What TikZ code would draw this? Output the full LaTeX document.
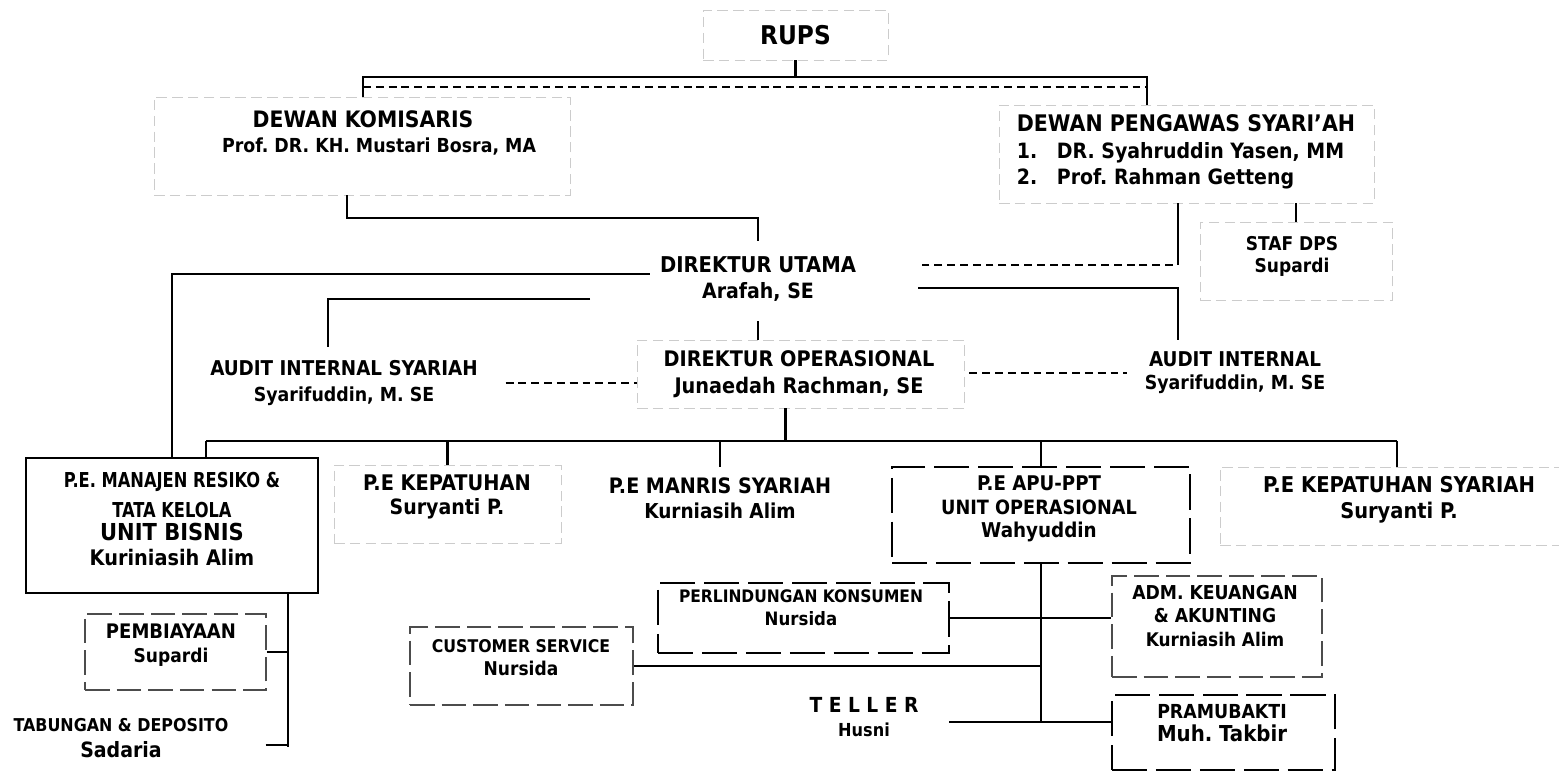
\documentclass[tikz,border=0pt]{standalone}
\usepackage{fontspec}
\setmainfont{DejaVu Sans Condensed}
\newfontfamily\narrowfont{DejaVu Sans Condensed}[FakeStretch=0.88]
\usetikzlibrary{positioning,fit}
\newcommand{\fsz}[2]{\fontsize{#1}{#2}\selectfont}
\frenchspacing
\tikzset{
  link/.style={line width=1.6pt, black},
  dlink/.style={link, dash pattern=on 4.5pt off 2.8pt},
  faintbox/.style={draw=gray!40, line width=0.5pt, dash pattern=on 6pt off 3pt, inner sep=0pt},
  solidbox/.style={draw=black, line width=1.6pt, inner sep=0pt},
  dashbox/.style={draw=black, line width=1.5pt, dash pattern=on 20pt off 5pt, inner sep=0pt},
  greybox/.style={draw=gray!60!black, line width=1pt, dash pattern=on 14pt off 4pt, inner sep=0pt},
  txt/.style={align=center, inner sep=0pt, font=\bfseries},
}

\begin{document}
\begin{tikzpicture}[x=0.02cm, y=-0.02cm]
\useasboundingbox (0,0) rectangle (1559,771);

% ---- boxes ----
\node[faintbox, fit={(703,10) (888,60)}] (rupsbox) {};
\node[faintbox, fit={(154,97) (570,195)}] (dkbox) {};
\node[faintbox, fit={(999,105) (1374,203)}] (dpsbox) {};
\node[faintbox, fit={(1200,222) (1392,300)}] (stafbox) {};
\node[faintbox, fit={(637,340) (964,408)}] (opsbox) {};
\node[solidbox, fit={(26,458) (318,593)}] (manbox) {};
\node[faintbox, fit={(334,465) (561,543)}] (kepbox) {};
\node[dashbox, fit={(892,467) (1190,563)}] (apubox) {};
\node[faintbox, fit={(1220,467) (1559,545)}] (kepsybox) {};
\node[dashbox, fit={(658,583) (949,653)}] (perlinbox) {};
\node[greybox, fit={(410,627) (633,705)}] (csbox) {};
\node[greybox, fit={(1112,576) (1322,677)}] (admbox) {};
\node[dashbox, fit={(1112,695) (1335,770)}] (pramubox) {};
\node[greybox, fit={(85,614) (266,690)}] (pembbox) {};

% ---- texts ----
\node[txt, font=\bfseries\fsz{14.7}{16}] (rups) at (rupsbox) {RUPS};
\node[txt, font=\bfseries\fsz{12.9}{14.5}] (dk) at (379,133)
  {DEWAN KOMISARIS\hspace*{0.64cm}\\\fsz{11}{14.5}Prof. DR. KH. Mustari Bosra, MA};
\node[txt, align=left, font=\bfseries\fsz{12}{15}] (dps) at (1186,152)
  {\fsz{13}{15}DEWAN PENGAWAS SYARI'AH\\\makebox[0.8cm][l]{1.}DR. Syahruddin Yasen, MM\\\makebox[0.8cm][l]{2.}Prof. Rahman Getteng};
\node[txt, font=\bfseries\fsz{10.8}{12.5}] (staf) at (1292,256) {STAF DPS\\Supardi};
\node[txt, font=\bfseries\fsz{12.4}{14.3}] (dirut) at (758,279) {DIREKTUR UTAMA\\\fsz{12}{14.3}Arafah, SE};
\node[txt, font=\bfseries\fsz{12.2}{15.3}] (dirops) at (799,374) {DIREKTUR OPERASIONAL\\Junaedah Rachman, SE};
\node[txt, font=\bfseries\fsz{11.6}{15.3}] (auditsy) at (344,383) {AUDIT INTERNAL SYARIAH\\\fsz{11}{15.3}Syarifuddin, M. SE};
\node[txt, font=\bfseries\fsz{11.6}{13}] (audit) at (1235,373) {AUDIT INTERNAL\\\fsz{11}{13}Syarifuddin, M. SE};
\node[txt, font=\bfseries] (manajen) at (172,519)
  {\narrowfont\bfseries\fsz{11.7}{15}P.E. MANAJEN RESIKO \&\\[5.5pt]\narrowfont\bfseries\fsz{11.7}{15}TATA KELOLA\\[1pt]
   \normalfont\bfseries\fsz{13.3}{14.3}UNIT BISNIS\\[2.3pt]\fsz{12.2}{14.8}Kuriniasih Alim};
\node[txt, font=\bfseries\fsz{12.25}{14}] (kep) at (447,497) {P.E KEPATUHAN\\\fsz{12}{14}Suryanti P.};
\node[txt, font=\bfseries\fsz{12.1}{14}] (manris) at (720,498) {P.E MANRIS SYARIAH\\\fsz{11.7}{14}Kurniasih Alim};
\node[txt, font=\bfseries\fsz{11.5}{13.5}] (apu) at (1039,509)
  {P.E APU-PPT\\\fsz{11.2}{13.3}UNIT OPERASIONAL\\\fsz{11.6}{13.3}Wahyuddin};
\node[txt, font=\bfseries\fsz{12.4}{14.8}] (kepsy) at (1399,500) {P.E KEPATUHAN SYARIAH\\\fsz{12.3}{14.8}Suryanti P.};
\node[txt, font=\bfseries\fsz{9.8}{13}] (perlin) at (801,608) {PERLINDUNGAN KONSUMEN\\\fsz{10.5}{13}Nursida};
\node[txt, font=\bfseries\fsz{9.95}{13}] (cs) at (521,658) {CUSTOMER SERVICE\\\fsz{10.8}{13}Nursida};
\node[txt, font=\bfseries\fsz{10.9}{13.3}] (adm) at (1215,616) {ADM. KEUANGAN\\\& AKUNTING\\\fsz{10.7}{13.3}Kurniasih Alim};
\node[txt, font=\bfseries\fsz{11}{13.5}] (pramu) at (1222,723) {PRAMUBAKTI\\\fsz{12.5}{13.5}Muh. Takbir};
\node[txt, font=\bfseries\fsz{11.8}{14}] (teller) at (864,717) {T E L L E R\\\fsz{10.2}{14}Husni};
\node[txt, font=\bfseries\fsz{11.4}{14}] (pemb) at (171,645) {PEMBIAYAAN\\\fsz{10.8}{14}Supardi};
\node[txt, font=\bfseries\fsz{10.06}{15}] (tab) at (121,738) {TABUNGAN \& DEPOSITO\\\fsz{12}{15}Sadaria};

% ---- junctions ----
\coordinate (busL) at (363,77);
\coordinate (busR) at (1147,77);
\coordinate (dkout) at (347,195);
\coordinate (dpsdrop) at (1178,265);
\coordinate (audj) at (590,299);
\coordinate (busB1) at (206,441);
\coordinate (busB2) at (1397,441);
\coordinate (ubstem) at (288,593);
\coordinate (tj) at (949,722);

% ---- connectors ----
\draw[link] (rupsbox) -- (rupsbox |- busL);
\draw[link] (busL |- dkbox.north) -- (busL) -- (busR) -- (busR |- dpsbox.north);
\draw[dlink] ([yshift=-0.2cm]busL) -- ([yshift=-0.2cm]busR);
\draw[link] (dkout) -- ++(0,23) -| ([yshift=0.32cm]dirut.north);
\draw[link] (dpsbox.south -| dpsdrop) -- (dpsdrop);
\draw[dlink] ([xshift=-0.1cm]dpsdrop) -- ++(-251,0);
\draw[link] (dpsbox.south -| stafbox.north) -- (stafbox.north);
\draw[link] ([xshift=-0.2cm,yshift=0.1cm]dirut.west) -| (manbox.north);
\draw[link] (audj) -| ([xshift=-0.32cm,yshift=0.25cm]auditsy.north);
\draw[link] ([xshift=1.24cm,yshift=-0.18cm]dirut.east) -| (dpsdrop |- opsbox.north);
\draw[link] ([yshift=-0.4cm]dirut.south) -- (dirut.south |- opsbox.north);
\draw[dlink] ([xshift=0.55cm]auditsy.east) -- (opsbox.west |- auditsy.east);
\draw[dlink] ([xshift=0.1cm]opsbox.east |- audit.west) -- ([xshift=-0.36cm]audit.west);
% bottom bus
\draw[link] ([xshift=-0.3cm]opsbox.south) -- ++(0,33);
\draw[link] (busB1) -- (busB2);
\draw[link] (busB1) -- (busB1 |- manbox.north);
\draw[link] (kepbox.north |- busB1) -- (kepbox.north);
\draw[link] (manris.north |- busB1) -- ([yshift=0.2cm]manris.north);
\draw[link] (apubox.north |- busB1) -- (apubox.north);
\draw[link] (busB2) -- (busB2 |- kepsybox.north);
% unit bisnis
\draw[link] (ubstem) -- ++(0,154);
\draw[link] (pembbox.east) -- (pembbox.east -| ubstem);
\draw[link] ([xshift=0.74cm,yshift=-0.14cm]tab.east) -- ++(22,0);
% unit operasional
\draw[link] (apubox.south) -- (apubox.south |- tj);
\draw[link] (perlinbox.east) -- (perlinbox.east -| admbox.west);
\draw[link] (csbox.east) -- (csbox.east -| apubox.south);
\draw[link] (tj) -- (tj -| pramubox.west);
\end{tikzpicture}
\end{document}
